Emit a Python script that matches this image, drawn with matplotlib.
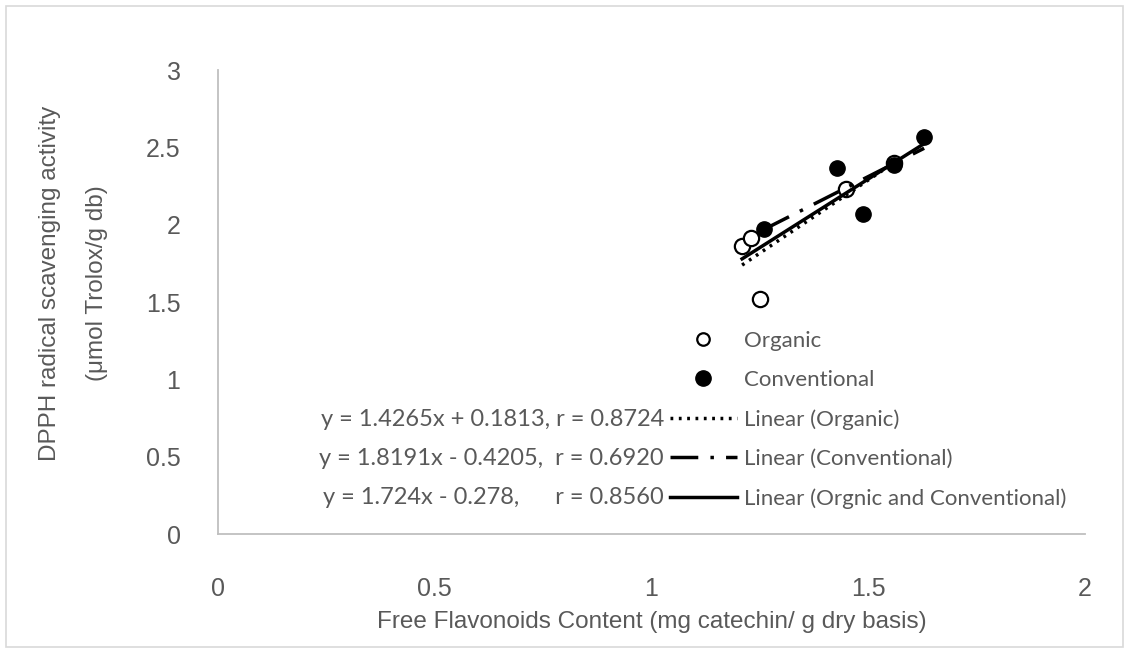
import numpy as np
import matplotlib
matplotlib.use("Agg")
from matplotlib import pyplot as plt
from matplotlib.patches import Rectangle
from matplotlib.lines import Line2D

# data (one organic point sits under a filled one)
organic_x = [1.209, 1.230, 1.250, 1.449, 1.559]
organic_y = [1.860, 1.914, 1.521, 2.231, 2.400]
conv_x = [1.260, 1.429, 1.489, 1.559, 1.629]
conv_y = [1.972, 2.367, 2.069, 2.388, 2.568]

x_ticks = [0, 0.5, 1, 1.5, 2]
y_ticks = [0, 0.5, 1, 1.5, 2, 2.5, 3]

equations = [
    "y = 1.4265x + 0.1813, r = 0.8724",
    "y = 1.8191x - 0.4205,  r = 0.6920",
    "y = 1.724x - 0.278,      r = 0.8560",
]
labels = ["Organic", "Conventional", "Linear (Organic)",
          "Linear (Conventional)", "Linear (Orgnic and Conventional)"]

W, H = 1125, 648
fig = plt.figure(figsize=(W / 100, H / 100), dpi=100)
ax = fig.add_axes([218 / W, 1 - 534 / H, (1085 - 218) / W, (534 - 70) / H])

grey = "#595959"
ax.set_xlim(0, 2)
ax.set_ylim(0, 3)
ax.set_xticks(x_ticks)
ax.set_xticklabels([f"{t:g}" for t in x_ticks])
ax.set_yticks(y_ticks)
ax.set_yticklabels([f"{t:g}" for t in y_ticks])
ax.tick_params(length=0, labelsize=18, labelcolor=grey)
ax.tick_params(axis="x", pad=31)
ax.tick_params(axis="y", pad=27)
for lab in ax.get_xticklabels() + ax.get_yticklabels():
    lab.set_fontfamily("Liberation Sans")
for s in ["top", "right"]:
    ax.spines[s].set_visible(False)
for s in ["left", "bottom"]:
    ax.spines[s].set_color("#bfbfbf")
    ax.spines[s].set_linewidth(1.3)

ms = 11
ax.plot(organic_x, organic_y, "o", ms=ms, mfc="white", mec="black", mew=1.6, zorder=3)
ax.plot(conv_x, conv_y, "o", ms=ms, mfc="black", mec="black", zorder=3)

# trend lines fitted from the points
dot_style = (0, (0.8, 1.6))
dash_dot = (0, (8, 3.5, 1, 3.5))
all_x = organic_x + conv_x
all_y = organic_y + conv_y
for xs, ys, ls in [(organic_x, organic_y, dot_style),
                   (conv_x, conv_y, dash_dot),
                   (all_x, all_y, "-")]:
    k, b = np.polyfit(xs, ys, 1)
    xx = np.array([min(xs), max(xs)])
    ax.plot(xx, k * xx + b, color="black", lw=2.5, ls=ls, zorder=4)

handles = [
    Line2D([], [], ls="none", marker="o", ms=9, mfc="white", mec="black", mew=1.6),
    Line2D([], [], ls="none", marker="o", ms=11, mfc="black", mec="black"),
    Line2D([], [], color="black", lw=2.5, ls=dot_style),
    Line2D([], [], color="black", lw=2.5, ls=dash_dot),
    Line2D([], [], color="black", lw=2.5, ls="-"),
]
fig.legend(handles, labels, loc="upper left", bbox_to_anchor=(670 / W, 1 - 331 / H),
           frameon=False, borderpad=0, borderaxespad=0, handlelength=3.0,
           handletextpad=0.33, labelspacing=0.86,
           prop={"family": "Lato", "size": 16}, labelcolor=grey)

for i, eq in enumerate(equations):
    fig.text(664 / W, 1 - (419 + 39.5 * i) / H, eq, ha="right", va="center",
             family="Lato", size=17, color=grey)

fig.text(652 / W, 1 - 622 / H, "Free Flavonoids Content (mg catechin/ g dry basis)",
         ha="center", va="center", family="Liberation Sans", size=17.5, color=grey)
fig.text(50 / W, 1 - 283 / H, "DPPH radical scavenging activity",
         ha="center", va="center", rotation=90, family="Liberation Sans",
         size=17.5, color=grey)
fig.text(97 / W, 1 - 283 / H, "(\u03bcmol Trolox/g db)",
         ha="center", va="center", rotation=90, family="Liberation Sans",
         size=17.5, color=grey)

fig.patches.append(Rectangle((6 / W, 1 / H), 1117 / W, 641 / H, transform=fig.transFigure,
                             fill=False, edgecolor="#d9d9d9", lw=1.2))

fig.savefig("out.png", dpi=100, facecolor="white")
